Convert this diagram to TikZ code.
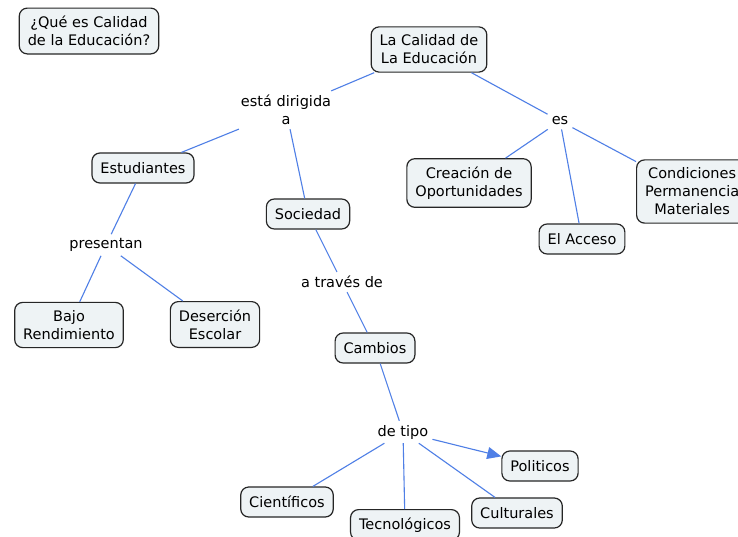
\documentclass[tikz,border=0pt]{standalone}
\usepackage{fontspec}
\setmainfont{DejaVu Sans}
\usetikzlibrary{arrows.meta}
\definecolor{boxfill}{HTML}{EEF3F5}
\definecolor{linkblue}{HTML}{4F7FE6}
\begin{document}
\begin{tikzpicture}[x=1pt,y=-1pt,
  every node/.style={font=\fontsize{14.5}{18}\selectfont, align=center},
  concept/.style={draw=black!85, line width=1.2pt, fill=boxfill, rounded corners=8pt,
    inner xsep=8.5pt, inner ysep=8pt, minimum height=30pt},
  linkword/.style={inner sep=4pt},
  link/.style={draw=linkblue, line width=1.1pt},
  linkarrow/.style={link, -{Triangle[length=14pt,width=12pt]}}]
\path[use as bounding box, fill=white] (0,0) rectangle (738,536);
\clip (0,0) rectangle (738,536);

% concepts
\node[concept] (q) at (89,31) {¿Qué es Calidad\\de la Educación?};
\node[concept] (lce) at (429,49.5) {La Calidad de\\La Educación};
\node[concept] (est) at (143,168) {Estudiantes};
\node[concept] (soc) at (308,214) {Sociedad};
\node[concept] (cre) at (469,183) {Creación de\\Oportunidades};
\node[concept, anchor=west] (cond) at (636,191.5) {Condiciones\\Permanencia\\Materiales};
\node[concept] (acc) at (582,239) {El Acceso};
\node[concept] (bajo) at (69,325) {Bajo\\Rendimiento};
\node[concept] (des) at (215,324.5) {Deserción\\Escolar};
\node[concept] (cam) at (375,348) {Cambios};
\node[concept] (pol) at (540,466) {Politicos};
\node[concept] (cie) at (287,502) {Científicos};
\node[concept, anchor=north] (tec) at (405,509) {Tecnológicos};
\node[concept] (cul) at (517,513) {Culturales};

% linking words
\node[linkword] (dir) at (286,110) {está dirigida\\a};
\node[linkword] (es) at (560,121) {es};
\node[linkword] (pre) at (106,245) {presentan};
\node[linkword] (tra) at (342,282) {a través de};
\node[linkword] (tipo) at (403,432) {de tipo};

% connectors
\draw[link] (lce) -- (dir);
\draw[link] (dir) -- (est);
\draw[link] (dir) -- (soc);
\draw[link] (lce) -- (es);
\draw[link] (es) -- (cre);
\draw[link] (es) -- (acc);
\draw[link] (es) -- (cond);
\draw[link] (est) -- (pre);
\draw[link] (pre) -- (bajo);
\draw[link] (pre) -- (des);
\draw[link] (soc) -- (tra);
\draw[link] (tra) -- (cam);
\draw[link] (cam) -- (tipo);
\draw[linkarrow] (tipo) -- (pol);
\draw[link] (tipo) -- (cie);
\draw[link] (tipo) -- (tec);
\draw[link] (tipo) -- (cul);
\end{tikzpicture}
\end{document}
